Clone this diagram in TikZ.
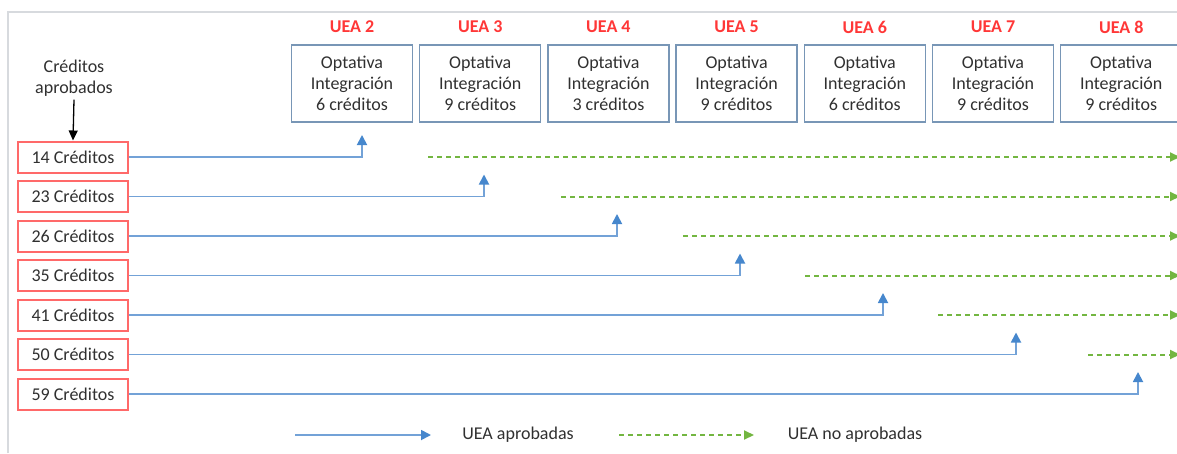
\documentclass[tikz,border=0pt]{standalone}
\usepackage{fontspec}
\setmainfont{Carlito}
\usetikzlibrary{arrows.meta}
\definecolor{txt}{RGB}{48,48,48}
\definecolor{ueared}{RGB}{255,55,55}
\definecolor{redbox}{RGB}{255,105,105}
\definecolor{bluebox}{RGB}{120,150,182}
\definecolor{blueln}{RGB}{115,162,215}
\definecolor{bluetip}{RGB}{70,135,205}
\definecolor{greenln}{RGB}{115,182,65}
\definecolor{framecol}{RGB}{215,218,222}
\begin{document}
\begin{tikzpicture}[x=1pt,y=-1pt,
 every node/.style={font=\fontsize{18}{21}\selectfont, text=txt},
 optbox/.style={draw=bluebox, line width=1.5pt, minimum width=121pt, minimum height=77pt, align=center, inner sep=0pt},
 uealabel/.style={text=ueared, font=\fontsize{18}{21}\selectfont\bfseries},
 credbox/.style={draw=redbox, line width=2pt, fill=white, minimum width=110pt, minimum height=31pt, inner sep=0pt},
 approved/.style={draw=blueln, line width=1.8pt, -{Triangle[length=10pt,width=10pt,color=bluetip]}},
 pending/.style={draw=greenln, line width=2pt, dash pattern=on 5pt off 4pt, -{Triangle[length=10pt,width=9pt]}},
 captionarrow/.style={draw=black, line width=1.3pt, -{Triangle[length=10pt,width=9pt]}},
]
\useasboundingbox (0,0) rectangle (1177,453);
\draw[framecol, line width=2.2pt] (8,453) -- (8,12) -- (1177,12);
\foreach \i/\c [count=\k from 2] in {0/6,1/9,2/3,3/9,4/6,5/9,6/9} {
  \node[optbox] (b\k) at ({352+128.2*\i},83.5) {Optativa\\Integración\\\c\ créditos};
  \node[uealabel] (u\k) at ({352+128.2*\i},27) {UEA \k};
}
\node[align=center] (cap) at (74,78) {Créditos\\aprobados};
\foreach \n/\i in {14/0,23/1,26/2,35/3,41/4,50/5,59/6}
  \node[credbox] (r\i) at (73,{157+39.5*\i}) {\n\ Créditos};
\draw[captionarrow] (cap.south) -- (r0.north);
\foreach \i/\x in {0/362,1/484,2/617,3/740,4/883,5/1016,6/1138} {
  \coordinate (t\i) at (\x,{157+39.5*\i-22});
  \draw[approved] (r\i.east) -| (t\i);
}
\foreach \i/\x in {0/428,1/561,2/683,3/805,4/938,5/1088} {
  \coordinate (gs\i) at (\x,{157+39.5*\i});
  \coordinate (ge\i) at (1180,{157+39.5*\i});
  \draw[pending] (gs\i) -- (ge\i);
}
\coordinate (la) at (295,435);
\coordinate (lb) at (431,435);
\draw[approved] (la) -- (lb);
\node (lt1) at (518,435) {UEA aprobadas};
\coordinate (lc) at (619,435);
\coordinate (ld) at (754,435);
\draw[pending] (lc) -- (ld);
\node (lt2) at (855,435) {UEA no aprobadas};
\end{tikzpicture}
\end{document}
